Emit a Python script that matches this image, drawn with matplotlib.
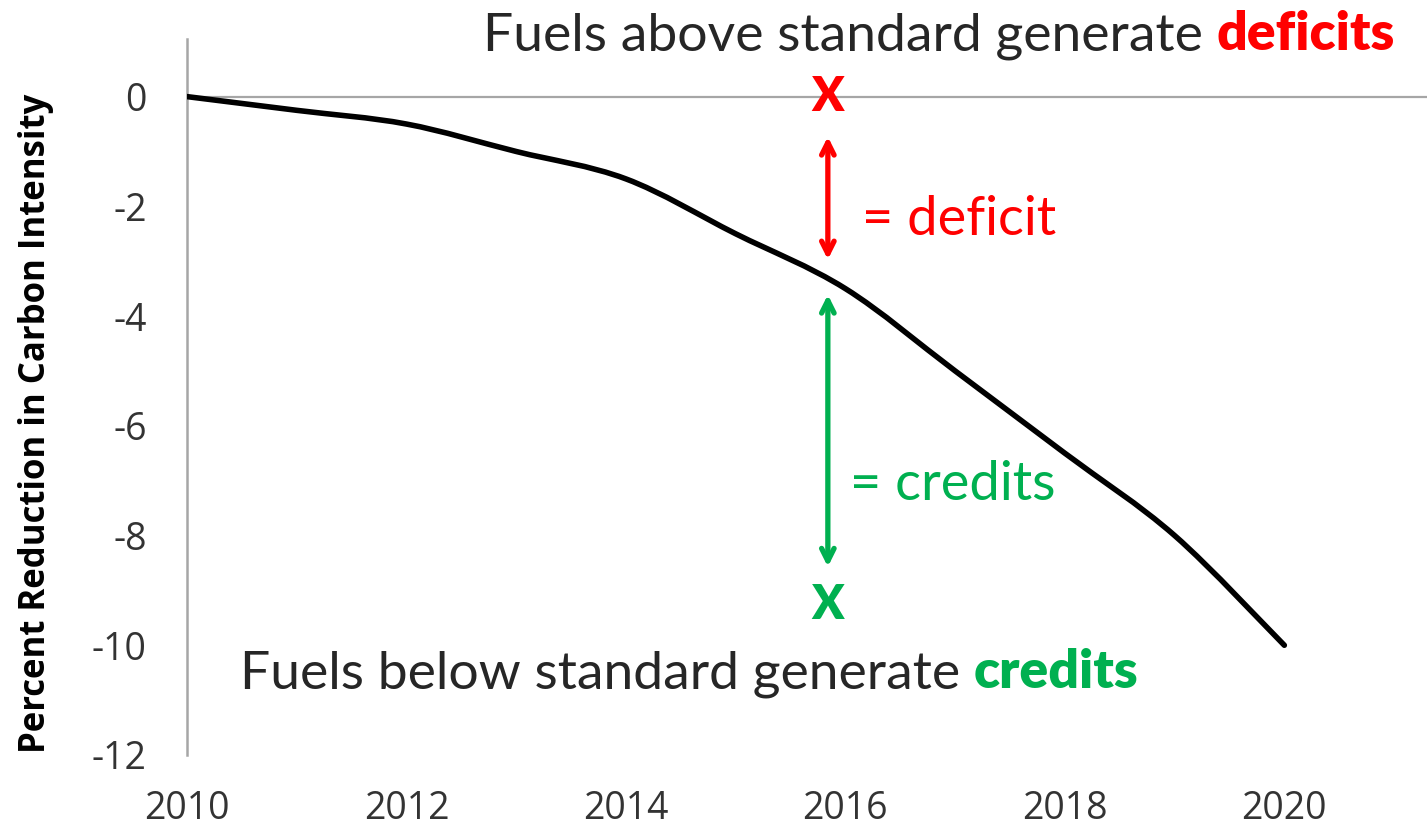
import matplotlib
matplotlib.use("Agg")
import matplotlib.pyplot as plt
from matplotlib.path import Path
from matplotlib.patches import PathPatch

plt.rcParams["axes.unicode_minus"] = False

# LCFS reduction schedule (percent reduction in carbon intensity)
years = [2010, 2011, 2012, 2013, 2014, 2015, 2016, 2017, 2018, 2019, 2020]
reduction = [0, -0.25, -0.5, -1.0, -1.5, -2.5, -3.5, -5.0, -6.5, -8.0, -10.0]

x_ticks = [2010, 2012, 2014, 2016, 2018, 2020]
y_ticks = [0, -2, -4, -6, -8, -10, -12]

# annotation anchors (data coords)
mark_year = 2015.84
deficit_x_y = 0.0
credit_x_y = -9.27
deficit_arrow = (-0.73, -2.97)
credit_arrow = (-3.61, -8.57)

RED = "#FF0000"
GREEN = "#00B050"
TXT = "#262626"
W, H = 1427, 827


def smooth_path(xs, ys, k=1 / 6):
    # excel-like smoothed line: cubic bezier through every data point
    verts = [(xs[0], ys[0])]
    codes = [Path.MOVETO]
    n = len(xs)
    for i in range(n - 1):
        x0, y0 = (xs[i - 1], ys[i - 1]) if i > 0 else (xs[i], ys[i])
        x1, y1 = xs[i], ys[i]
        x2, y2 = xs[i + 1], ys[i + 1]
        x3, y3 = (xs[i + 2], ys[i + 2]) if i + 2 < n else (x2, y2)
        verts += [(x1 + k * (x2 - x0), y1 + k * (y2 - y0)),
                  (x2 - k * (x3 - x1), y2 - k * (y3 - y1)),
                  (x2, y2)]
        codes += [Path.CURVE4] * 3
    return Path(verts, codes)


fig = plt.figure(figsize=(W / 100, H / 100), dpi=100)
ax = fig.add_axes([187 / W, 72 / H, (W - 187) / W, (755 - 39) / H])

ax.add_patch(PathPatch(smooth_path(years, reduction), fill=False, edgecolor="black",
                       lw=4.0, capstyle="round", joinstyle="round", zorder=3))
ax.axhline(0, color="#A6A6A6", lw=1.6, zorder=1)

ax.set_xlim(2010, 2021.3)
ax.set_ylim(-12, 1.05)
ax.set_xticks(x_ticks)
ax.set_yticks(y_ticks)
ax.tick_params(length=0, labelsize=27, colors="#333333")
ax.tick_params(axis="x", pad=25)
ax.tick_params(axis="y", pad=29)
for lab in ax.get_xticklabels() + ax.get_yticklabels():
    lab.set_fontfamily("Open Sans")
for s in ["top", "right", "bottom"]:
    ax.spines[s].set_visible(False)
ax.spines["left"].set_color("#A6A6A6")
ax.spines["left"].set_linewidth(1.8)

fig.text(36 / W, (H - 423) / H, "Percent Reduction in Carbon Intensity",
         rotation=90, ha="center", va="center", fontsize=25,
         fontweight="bold", family="Open Sans", color="black")

# X markers
ax.text(mark_year, deficit_x_y, "X", color=RED, fontsize=34, fontweight="heavy",
        family="Lato", ha="center", va="center", zorder=4)
ax.text(mark_year, credit_x_y, "X", color=GREEN, fontsize=34, fontweight="heavy",
        family="Lato", ha="center", va="center", zorder=4)

# double arrows
ax.annotate("", xy=(mark_year, deficit_arrow[0]), xytext=(mark_year, deficit_arrow[1]),
            arrowprops=dict(arrowstyle="<->,head_length=0.9,head_width=0.45",
                            color=RED, lw=3.8, shrinkA=0, shrinkB=0,
                            capstyle="round", joinstyle="round"))
ax.annotate("", xy=(mark_year, credit_arrow[0]), xytext=(mark_year, credit_arrow[1]),
            arrowprops=dict(arrowstyle="<->,head_length=0.9,head_width=0.45",
                            color=GREEN, lw=3.8, shrinkA=0, shrinkB=0,
                            capstyle="round", joinstyle="round"))

fig.text(862 / W, (H - 235) / H, "= deficit", color=RED, fontsize=39,
         family="Lato", ha="left", va="baseline")
fig.text(850 / W, (H - 500) / H, "= credits", color=GREEN, fontsize=39,
         family="Lato", ha="left", va="baseline")


def two_part(x_px, base_px, plain, bold, color):
    t = fig.text(x_px / W, (H - base_px) / H, plain + " ", color=TXT, fontsize=38.5,
                 family="Lato", ha="left", va="baseline")
    fig.canvas.draw()
    bb = t.get_window_extent()
    fig.text(bb.x1 / W, (H - base_px) / H, bold, color=color, fontsize=38.5,
             fontweight="heavy", family="Lato", ha="left", va="baseline")


two_part(483, 50, "Fuels above standard generate", "deficits", RED)
two_part(240, 688, "Fuels below standard generate", "credits", GREEN)

fig.savefig("out.png", dpi=100, facecolor="white")
